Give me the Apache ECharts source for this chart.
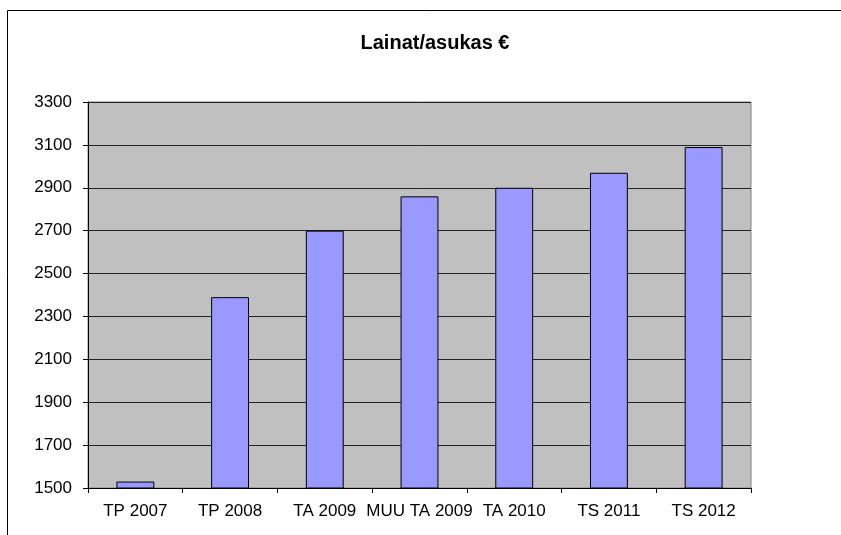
<!DOCTYPE html>
<html>
<head>
<meta charset="utf-8">
<script src="https://cdn.jsdelivr.net/npm/echarts@6/dist/echarts.min.js"></script>
<style>
  html, body { margin: 0; padding: 0; background: #fff; }
  #chart { width: 841px; height: 535px; }
</style>
</head>
<body>
<div id="chart"></div>
<script>
const chartTitle = 'Lainat/asukas €';
const categories = ['TP 2007', 'TP 2008', 'TA 2009', 'MUU TA 2009', 'TA 2010', 'TS 2011', 'TS 2012'];
const values = [1530, 2390, 2700, 2860, 2900, 2970, 3090];

const font = '"Liberation Sans", Arial, sans-serif';

const chart = echarts.init(document.getElementById('chart'));
chart.setOption({
    animation: false,
    backgroundColor: '#fff',
    title: {
        text: chartTitle,
        left: 435,
        textAlign: 'center',
        top: 33,
        padding: 0,
        textStyle: { fontFamily: font, fontSize: 20, fontWeight: 'bold', color: '#000' }
    },
    graphic: [{
        type: 'rect',
        shape: { x: 7.5, y: 10.5, width: 850, height: 540 },
        style: { fill: 'none', stroke: '#000', lineWidth: 1 },
        silent: true,
        z: -1
    }],
    grid: {
        left: 88,
        top: 102,
        right: 90,
        bottom: 47,
        show: true,
        backgroundColor: '#C0C0C0',
        borderColor: '#808080',
        borderWidth: 1
    },
    xAxis: {
        type: 'category',
        data: categories,
        axisLine: { lineStyle: { color: '#000', width: 1 } },
        axisTick: { show: true, length: 5, lineStyle: { color: '#000' } },
        axisLabel: { fontFamily: font, fontSize: 17, color: '#000', margin: 15, interval: 0 }
    },
    yAxis: {
        type: 'value',
        min: 1500,
        max: 3300,
        interval: 200,
        axisLine: { show: true, lineStyle: { color: '#000', width: 1 } },
        axisTick: { show: true, length: 5, lineStyle: { color: '#000' } },
        axisLabel: { fontFamily: font, fontSize: 17, color: '#000', margin: 16, formatter: v => String(v) },
        splitLine: { show: true, lineStyle: { color: '#222', width: 1 } }
    },
    series: [{
        type: 'bar',
        data: values,
        barWidth: '40%',
        itemStyle: { color: '#9999FF', borderColor: '#000', borderWidth: 1 }
    }]
});
</script>
</body>
</html>
